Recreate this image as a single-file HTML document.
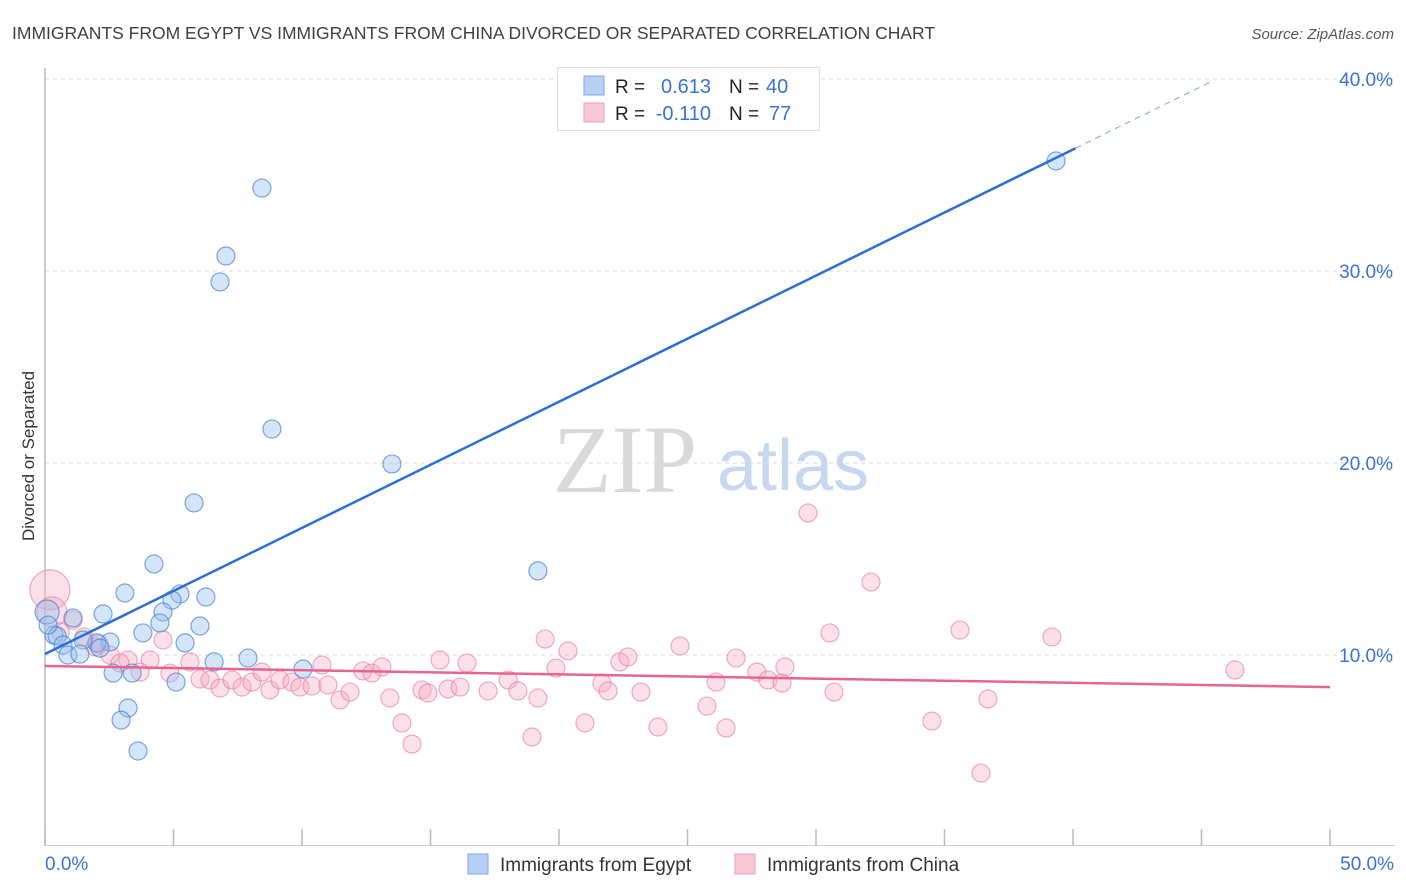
<!DOCTYPE html>
<html><head><meta charset="utf-8"><style>
body{margin:0;background:#fff;font-family:"Liberation Sans",sans-serif;}
#wrap{position:relative;width:1406px;height:892px;overflow:hidden;}
</style></head><body>
<div id="wrap">
<svg id="svg" width="1406" height="892" xmlns="http://www.w3.org/2000/svg">
<text x="12" y="39" font-size="17.5" fill="#404040">IMMIGRANTS FROM EGYPT VS IMMIGRANTS FROM CHINA DIVORCED OR SEPARATED CORRELATION CHART</text>
<text x="1394" y="39" font-size="15" fill="#555" font-style="italic" text-anchor="end">Source: ZipAtlas.com</text>
<text x="34" y="456" font-size="17" fill="#333" text-anchor="middle" transform="rotate(-90 34 456)">Divorced or Separated</text>
<text x="553" y="492" font-size="96" fill="#d9d9d9" font-family="Liberation Serif,serif">ZIP</text>
<text x="717" y="490" font-size="72" fill="#c5d8f0">atlas</text>
<g id="grid"></g><g id="axes"></g><g id="pts"></g><g id="lines"></g>
<g>
<rect x="557.5" y="67.5" width="262" height="63" fill="#fff" stroke="#ddd"/>
<rect x="584" y="76" width="20" height="19" fill="#b7d0f3" stroke="#7fa8e0"/>
<rect x="584" y="103" width="20" height="19" fill="#f9c6d5" stroke="#ee9db7"/>
<text x="615" y="93" font-size="19" fill="#222">R = </text><text x="711" y="93" font-size="20" fill="#3b73d4" text-anchor="end">0.613</text>
<text x="729" y="93" font-size="19" fill="#222">N = </text><text x="766" y="93" font-size="20" fill="#3b73d4">40</text>
<text x="615" y="120" font-size="19" fill="#222">R = </text><text x="711" y="120" font-size="20" fill="#3b73d4" text-anchor="end">-0.110</text>
<text x="729" y="120" font-size="19" fill="#222">N = </text><text x="769" y="120" font-size="20" fill="#3b73d4">77</text>
</g>
<g>
<rect x="468" y="854" width="20" height="20" fill="#b7d0f3" stroke="#7fa8e0"/>
<text x="500" y="871" font-size="19" fill="#333">Immigrants from Egypt</text>
<rect x="735" y="854" width="20" height="20" fill="#f9c6d5" stroke="#ee9db7"/>
<text x="767" y="871" font-size="19" fill="#333">Immigrants from China</text>
</g>
</svg>
</div>
<script>
const xTicks=[0,5,10,15,20,25,30,35,40,45,50];
const yTicks=[10,20,30,40];
const yTickLabels=["10.0%","20.0%","30.0%","40.0%"];
const xEndLabels=["0.0%","50.0%"];
const egyptX=[8.44,7.04,6.81,8.83,13.50,5.80,4.24,19.18,3.11,5.25,6.26,4.94,2.26,4.59,1.09,4.47,6.03,3.81,0.35,0.08,0.47,5.45,2.53,2.02,1.48,0.70,2.14,0.89,1.36,6.58,7.90,10.04,2.65,3.39,5.10,3.23,2.96,3.62,39.34,0.12];
const egyptY=[34.32,30.78,29.43,21.77,19.95,17.92,14.74,14.38,13.23,13.18,13.02,12.86,12.14,12.24,11.93,11.67,11.51,11.15,11.04,12.24,10.99,10.63,10.68,10.63,10.78,10.52,10.36,10.0,10.05,9.64,9.84,9.27,9.06,9.06,8.59,7.24,6.61,5.0,35.73,11.56];
const chinaX=[0.19,0.27,1.09,1.52,2.10,2.53,3.23,2.92,4.09,4.59,3.70,4.86,5.64,6.03,6.42,6.81,7.28,7.67,8.05,8.44,8.75,9.14,9.61,9.92,10.39,10.78,11.01,11.48,11.87,12.37,12.72,13.11,13.42,13.89,14.28,14.67,14.90,15.37,15.68,16.15,16.42,17.24,18.02,18.40,18.95,19.18,19.46,19.88,20.35,21.01,21.67,21.91,22.37,22.68,23.19,23.85,24.71,25.76,26.11,26.50,26.89,27.70,28.13,28.68,28.79,29.69,30.54,30.70,32.14,34.51,35.60,36.42,36.69,39.18,46.30,1.95,0.6];
const chinaY=[13.39,12.24,11.82,10.94,10.57,10.0,9.74,9.58,9.74,10.78,9.11,9.06,9.64,8.75,8.70,8.28,8.70,8.33,8.59,9.11,8.18,8.70,8.59,8.33,8.39,9.48,8.44,7.66,8.07,9.17,9.06,9.38,7.76,6.46,5.36,8.18,8.02,9.74,8.23,8.33,9.58,8.13,8.70,8.13,5.73,7.76,10.83,9.32,10.21,6.46,8.54,8.13,9.64,9.90,8.07,6.25,10.47,7.34,8.59,6.20,9.84,9.11,8.70,8.54,9.38,17.40,11.15,8.07,13.80,6.56,11.30,3.85,7.71,10.94,9.22,10.42,11.2];
const egyptTrend=[10.05,0.657];
const chinaTrend=[9.43,-0.022];
const NS="http://www.w3.org/2000/svg";
const X=v=>45+v*25.7, Y=v=>847-v*19.2;
function mk(tag,attrs,parent){const e=document.createElementNS(NS,tag);for(const k in attrs)e.setAttribute(k,attrs[k]);document.getElementById(parent).appendChild(e);return e;}
yTicks.forEach((t,i)=>{
 const l=mk('line',{x1:45,x2:1395,y1:Y(t),y2:Y(t),stroke:'#d8d8d8','stroke-dasharray':'4,4'},'grid');
 
 
 const tx=mk('text',{x:1393,y:Y(t)+7,'font-size':19,fill:'#3b73d4','text-anchor':'end'},'grid');
 tx.textContent=yTickLabels[i];
 
 
});
let ax=mk('line',{x1:45,x2:45,y1:68,y2:846,stroke:'#bbb','stroke-width':1.5},'axes');


ax=mk('line',{x1:45,x2:1395,y1:845.5,y2:845.5,stroke:'#ccc'},'axes');


xTicks.forEach(t=>{
 const l=mk('line',{x1:X(t),x2:X(t),y1:829,y2:846,stroke:'#bbb','stroke-width':1.5},'axes');
 
 
});
let t0=mk('text',{x:45,y:870,'font-size':19,fill:'#3b73d4'},'axes');t0.textContent=xEndLabels[0];


let t1=mk('text',{x:1394,y:870,'font-size':19,fill:'#3b73d4','text-anchor':'end'},'axes');t1.textContent=xEndLabels[1];


chinaX.forEach((x,i)=>{
 const r=i===0?20:(i===1?15:9);
 const c=mk('circle',{cx:X(x),cy:Y(chinaY[i]),r:r,fill:'rgba(244,170,196,0.38)',stroke:'rgba(230,120,155,0.6)','stroke-width':1.2},'pts');
 
 
});
egyptX.forEach((x,i)=>{
 const r=i===19?12:9;
 const c=mk('circle',{cx:X(x),cy:Y(egyptY[i]),r:r,fill:'rgba(150,190,238,0.4)',stroke:'rgba(70,130,210,0.7)','stroke-width':1.2},'pts');
 
 
});
const bx1=40.1,bx2=45.33;
let l=mk('line',{x1:X(0),y1:Y(egyptTrend[0]),x2:X(bx1),y2:Y(egyptTrend[0]+egyptTrend[1]*bx1),stroke:'#2a6fd6','stroke-width':2.5},'lines');


l=mk('line',{x1:X(bx1),y1:Y(egyptTrend[0]+egyptTrend[1]*bx1),x2:X(bx2),y2:Y(egyptTrend[0]+egyptTrend[1]*bx2),stroke:'#7fa3d8','stroke-width':1,'stroke-dasharray':'6,5'},'lines');


l=mk('line',{x1:X(0),y1:Y(chinaTrend[0]),x2:X(50),y2:Y(chinaTrend[0]+chinaTrend[1]*50),stroke:'#e8648e','stroke-width':2.5},'lines');


</script>
</body></html>
